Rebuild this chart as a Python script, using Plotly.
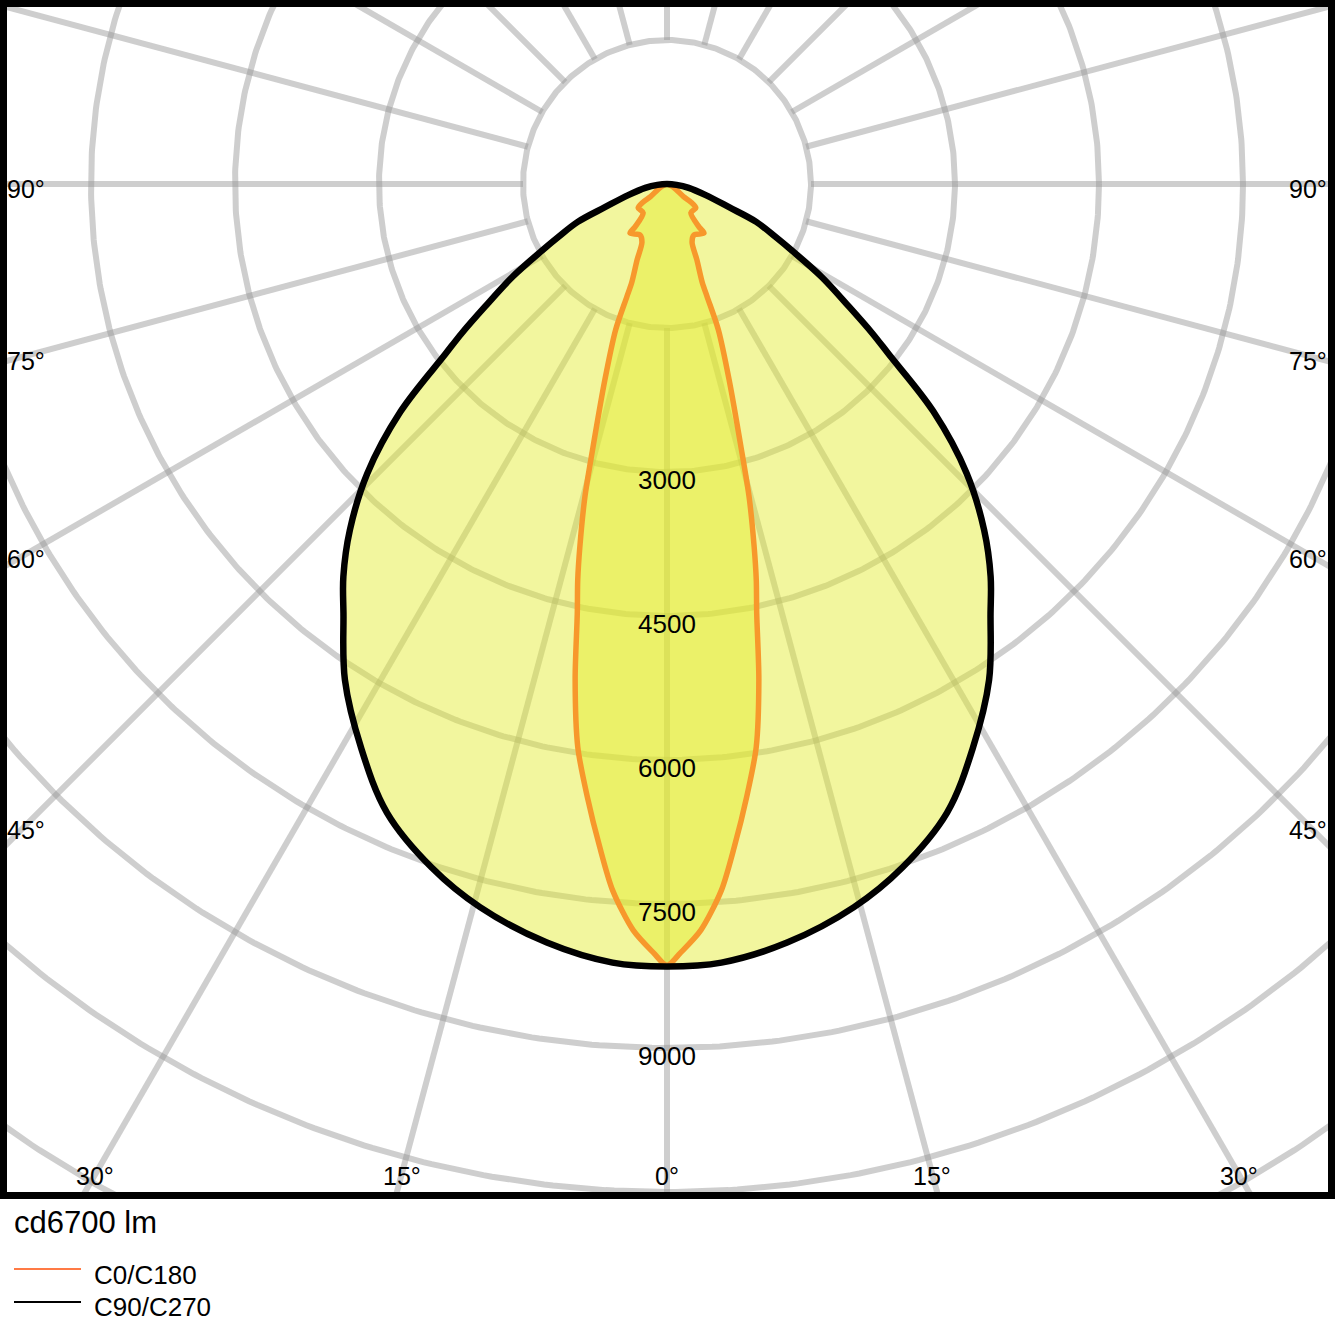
import numpy as np
import plotly.graph_objects as go

# ---------------- data ----------------
# C0/C180 plane: gamma (deg from nadir) and intensity (cd), listed along the outline
gamma_c0 = [0, 1, 2.6, 4.4, 5.8, 7.4, 9, 10.5, 11.8, 12.7, 13.5, 14.7, 15.7,
            17.6, 19.4, 19.6, 19.7, 21.5, 23.3, 27.9, 37, 36.7, 39.6, 50.4, 53, 52.6, 62, 90]
I_c0 = [8140, 8010, 7780, 7380, 6940, 6440, 5940, 5250, 4570, 4230, 3890, 3370, 2850,
        2140, 1610, 1250, 1090, 850, 660, 600, 640, 560, 390, 390, 310, 220, 80, 0]

# C90/C270 plane
gamma_c90 = [0, 4, 9, 14.5, 19, 24, 28.5, 33, 37, 39.5, 42.5, 46, 49.5, 52.5,
             54, 56, 59, 62, 64, 67, 69.5, 74, 80, 85, 90]
I_c90 = [8150, 8130, 8000, 7780, 7530, 7170, 6680, 6160, 5600, 5300, 4890, 4340, 3650, 2910,
         2640, 2290, 1880, 1470, 1260, 1010, 690, 420, 230, 100, 0]

ring_values = [1500, 3000, 4500, 6000, 7500, 9000, 10500, 12000, 13500]
ring_label_values = [3000, 4500, 6000, 7500, 9000]
ring_label_texts = ["3000", "4500", "6000", "7500", "9000"]
spoke_angles = list(range(0, 360, 15))
side_label_angles = [90, 75, 60, 45]
side_label_texts = ["90°", "75°", "60°", "45°"]
bottom_label_angles = [-30, -15, 0, 15, 30]
bottom_label_texts = ["30°", "15°", "0°", "15°", "30°"]
legend_names = ["C0/C180", "C90/C270"]
title_text = "cd6700 lm"

# ---------------- layout geometry ----------------
W = H = 1335
ML, MR, MT, MB = 7, 7, 7, 143
K = 0.096            # pixels per cd
CX, CY = 667, 184    # pole position in pixels
PW, PH = W - ML - MR, H - MT - MB
x_range = [-(CX - ML) / K, (W - MR - CX) / K]
y_range = [-(H - MB - CY) / K, (CY - MT) / K]

FONT = "Liberation Sans, Arial, Helvetica, sans-serif"
GRID = "rgba(150,150,150,0.47)"
FILL = "rgba(226,236,40,0.45)"
ORANGE = "#f7982c"
SMOOTH_C0 = 0.8
SMOOTH_C90 = 1.0


def curve_xy(gam, inten):
    g = np.radians(np.asarray(gam, dtype=float))
    r = np.asarray(inten, dtype=float)
    xl = -(r * np.sin(g))[::-1]
    yl = -(r * np.cos(g))[::-1]
    xr = (r * np.sin(g))[1:]
    yr = -(r * np.cos(g))[1:]
    return np.concatenate([xl, xr]), np.concatenate([yl, yr])


fig = go.Figure()

# rings
t = np.linspace(0, 2 * np.pi, 721)
rx, ry = [], []
for v in ring_values:
    rx += list(v * np.cos(t)) + [None]
    ry += list(v * np.sin(t)) + [None]
fig.add_trace(go.Scatter(x=rx, y=ry, mode="lines", line=dict(color=GRID, width=6),
                         hoverinfo="skip", showlegend=False))

# spokes (start at the inner ring)
sx, sy = [], []
r_in, r_out = ring_values[0], 30000
for a in spoke_angles:
    ar = np.radians(a)
    sx += [r_in * np.sin(ar), r_out * np.sin(ar), None]
    sy += [-r_in * np.cos(ar), -r_out * np.cos(ar), None]
fig.add_trace(go.Scatter(x=sx, y=sy, mode="lines", line=dict(color=GRID, width=6),
                         hoverinfo="skip", showlegend=False))

x90, y90 = curve_xy(gamma_c90, I_c90)
x0, y0 = curve_xy(gamma_c0, I_c0)

fig.add_trace(go.Scatter(x=x90, y=y90, mode="lines", fill="toself", fillcolor=FILL,
                         line=dict(width=0, color="rgba(0,0,0,0)", shape="spline", smoothing=SMOOTH_C90),
                         hoverinfo="skip", showlegend=False))
fig.add_trace(go.Scatter(x=x0, y=y0, mode="lines", fill="toself", fillcolor=FILL,
                         line=dict(width=0, color="rgba(0,0,0,0)", shape="spline", smoothing=SMOOTH_C0),
                         hoverinfo="skip", showlegend=False))
fig.add_trace(go.Scatter(x=x0, y=y0, mode="lines", name=legend_names[0],
                         line=dict(width=5.5, color=ORANGE, shape="spline", smoothing=SMOOTH_C0),
                         showlegend=False))
fig.add_trace(go.Scatter(x=x90, y=y90, mode="lines", name=legend_names[1],
                         line=dict(width=6.5, color="black", shape="spline", smoothing=SMOOTH_C90),
                         showlegend=False))

ann = []
# ring value labels
for v, txt in zip(ring_label_values, ring_label_texts):
    ann.append(dict(x=0, y=-v, xref="x", yref="y", text=txt, showarrow=False,
                    yshift=-8, font=dict(family=FONT, size=26, color="black")))

# side angle labels (centered on spoke at a fixed inset from the border)
inset = 641 / K
for a, txt in zip(side_label_angles, side_label_texts):
    ar = np.radians(a)
    yy = -inset * np.cos(ar) / np.sin(ar)
    for s in (-1, 1):
        ann.append(dict(x=s * inset, y=yy, xref="x", yref="y", text=txt, showarrow=False,
                        yshift=-5, font=dict(family=FONT, size=25, color="black")))

# bottom angle labels
ybot = -(1174 - CY) / K
for a, txt in zip(bottom_label_angles, bottom_label_texts):
    ar = np.radians(a)
    xx = -ybot * np.tan(ar)
    ann.append(dict(x=xx, y=ybot, xref="x", yref="y", text=txt, showarrow=False,
                    yshift=-2, font=dict(family=FONT, size=25, color="black")))


def px(xp):
    return (xp - ML) / PW


def py(yp):
    return 1 - (yp - MT) / PH


ann.append(dict(x=px(12), y=py(1222), xref="paper", yref="paper", text=title_text,
                showarrow=False, xanchor="left", yanchor="middle",
                font=dict(family=FONT, size=31, color="black")))
ann.append(dict(x=px(92), y=py(1275), xref="paper", yref="paper", text=legend_names[0],
                showarrow=False, xanchor="left", yanchor="middle",
                font=dict(family=FONT, size=26, color="black")))
ann.append(dict(x=px(92), y=py(1307), xref="paper", yref="paper", text=legend_names[1],
                showarrow=False, xanchor="left", yanchor="middle",
                font=dict(family=FONT, size=26, color="black")))

shapes = [
    dict(type="line", xref="paper", yref="paper", x0=px(14), x1=px(81), y0=py(1269), y1=py(1269),
         line=dict(color="#ff7a45", width=2)),
    dict(type="line", xref="paper", yref="paper", x0=px(14), x1=px(81), y0=py(1302), y1=py(1302),
         line=dict(color="black", width=2)),
]

ax_common = dict(showgrid=False, zeroline=False, showticklabels=False, ticks="",
                 showline=True, mirror=True, linecolor="black", linewidth=7,
                 fixedrange=True, automargin=False)
fig.update_layout(
    template="none",
    width=W, height=H, margin=dict(l=ML, r=MR, t=MT, b=MB, pad=0, autoexpand=False),
    paper_bgcolor="white", plot_bgcolor="white",
    xaxis=dict(range=x_range, **ax_common),
    yaxis=dict(range=y_range, **ax_common),
    annotations=ann, shapes=shapes, showlegend=False,
)

fig.write_html(
    "out.html",
    config={"displayModeBar": False},
    post_script=("document.body.style.margin='0';"
                 "document.body.style.overflow='hidden';"
                 "document.documentElement.style.overflow='hidden';"),
)
